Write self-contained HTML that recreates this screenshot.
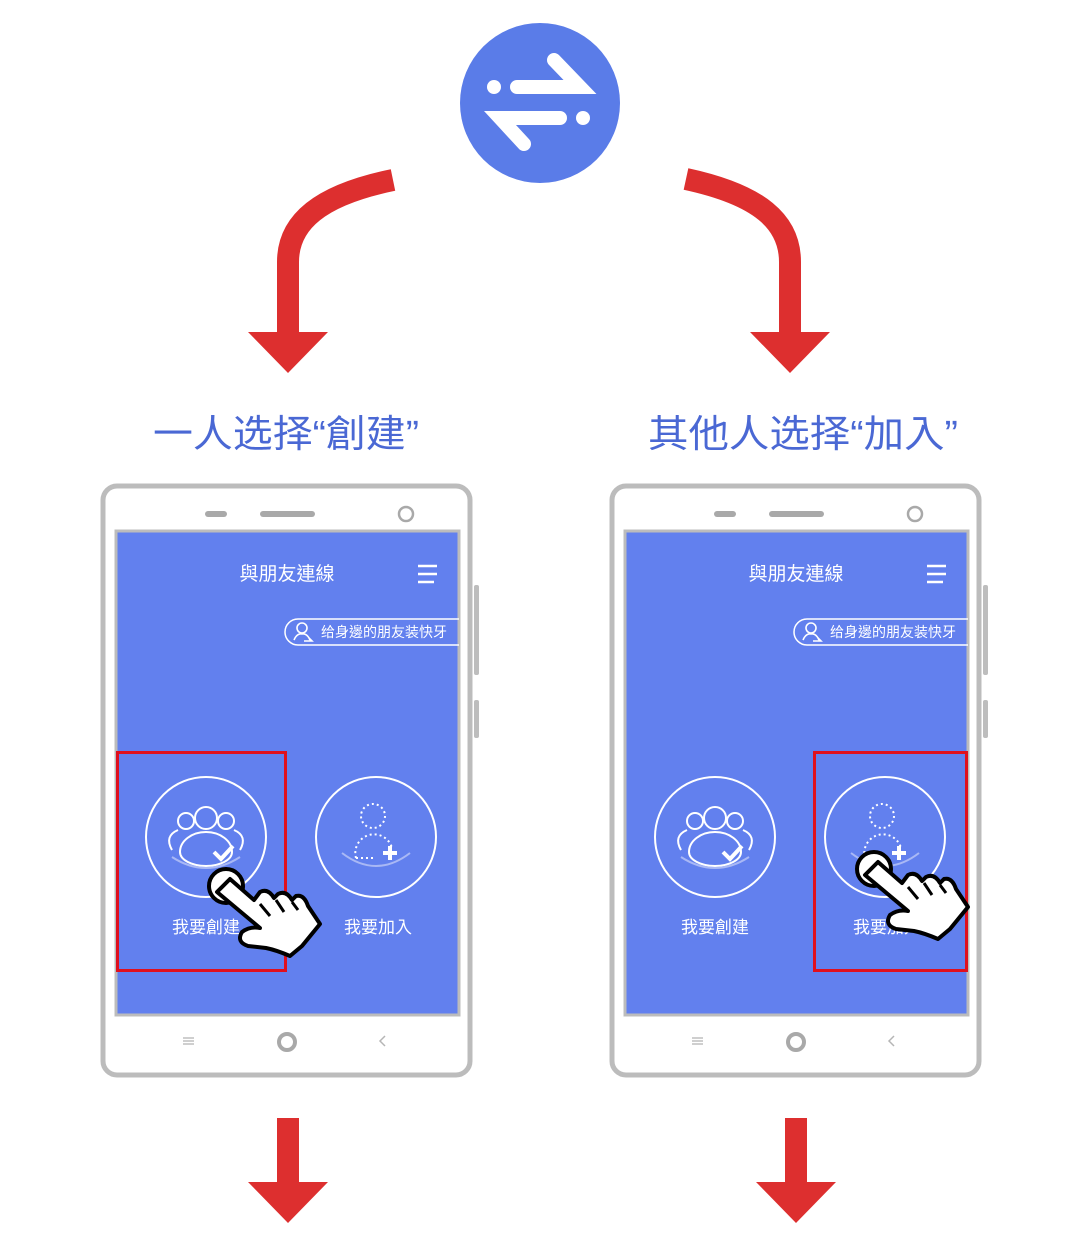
<!DOCTYPE html>
<html><head><meta charset="utf-8"><style>
html,body{margin:0;padding:0;background:#fff;}
svg{display:block;}
text{font-family:"Liberation Sans","Noto Sans CJK TC",sans-serif;}
</style></head><body>
<svg width="1080" height="1242" viewBox="0 0 1080 1242" xmlns="http://www.w3.org/2000/svg">
<defs>
<g id="phone">
  <rect x="474" y="585" width="5" height="90" rx="2" fill="#bdbdbd"/>
  <rect x="474" y="700" width="5" height="38" rx="2" fill="#bdbdbd"/>
  <rect x="103" y="486" width="367" height="589" rx="14" fill="#fff" stroke="#bcbcbc" stroke-width="5"/>
  <rect x="205" y="511" width="22" height="6" rx="3" fill="#a9a9a9"/>
  <rect x="260" y="511" width="55" height="6" rx="3" fill="#a9a9a9"/>
  <circle cx="406" cy="514" r="7" fill="none" stroke="#a9a9a9" stroke-width="2.5"/>
  <rect x="116" y="531" width="343" height="484" fill="#6280ee" stroke="#bcbcbc" stroke-width="3"/>
  <text x="287" y="580" font-size="19" fill="#fff" text-anchor="middle">與朋友連線</text>
  <g stroke="#fff" stroke-width="2.5"><line x1="418" y1="566" x2="437" y2="566"/><line x1="418" y1="574" x2="437" y2="574"/><line x1="418" y1="582" x2="434" y2="582"/></g>
  <path d="M459,619 H298 a13,13 0 0 0 0,26 H459" fill="none" stroke="#fff" stroke-width="1.5"/>
  <circle cx="302" cy="628" r="5" fill="none" stroke="#fff" stroke-width="1.6"/>
  <path d="M294,640 q3,-7 8,-6 q5,-1 8,6 M304,641 h8 l-3,-3" fill="none" stroke="#fff" stroke-width="1.6"/>
  <text x="321" y="637" font-size="14" fill="#fff" textLength="126" lengthAdjust="spacingAndGlyphs">给身邊的朋友装快牙</text>
  <circle cx="206" cy="837" r="60" fill="none" stroke="#fff" stroke-width="2"/>
  <g fill="none" stroke="#fff" stroke-width="2">
    <circle cx="206" cy="818" r="11"/><circle cx="186" cy="821" r="8"/><circle cx="226" cy="821" r="8"/>
    <path d="M180,852 a26,20 0 0 1 52,0 a26,14 0 0 1 -52,0"/>
    <path d="M172,850 q-8,-14 6,-20 M240,850 q8,-14 -6,-20"/>
  </g>
  <path d="M214,852 l7,7 l12,-13" fill="none" stroke="#fff" stroke-width="4"/>
  <path d="M172,857 q34,22 68,0" fill="none" stroke="#a9b8f5" stroke-width="2"/>
  <text x="206" y="933" font-size="17" fill="#fff" text-anchor="middle">我要創建</text>
  <circle cx="376" cy="837" r="60" fill="none" stroke="#fff" stroke-width="2"/>
  <g fill="none" stroke="#fff" stroke-width="2" stroke-dasharray="2 3">
    <circle cx="373" cy="816" r="12"/>
    <path d="M356,858 a18,18 0 0 1 36,-10 M356,858 h18"/>
  </g>
  <path d="M390,846 v14 M383,853 h14" stroke="#fff" stroke-width="4"/>
  <path d="M342,853 q34,26 68,0" fill="none" stroke="#a9b8f5" stroke-width="2"/>
  <text x="378" y="933" font-size="17" fill="#fff" text-anchor="middle">我要加入</text>
  <g stroke="#b5b5b5" stroke-width="1.3"><line x1="183" y1="1038" x2="194" y2="1038"/><line x1="183" y1="1041" x2="194" y2="1041"/><line x1="183" y1="1044" x2="194" y2="1044"/></g>
  <circle cx="287" cy="1042" r="8" fill="none" stroke="#a9a9a9" stroke-width="4"/>
  <path d="M385,1036 l-5,5 l5,5" fill="none" stroke="#b5b5b5" stroke-width="1.5"/>
</g>
<g id="hand">
  <circle cx="0" cy="0" r="17" fill="#fff" stroke="#000" stroke-width="4"/>
  <path d="M-9,6 L4,-7 L28,14 L34,6 Q42,2 48,12 L52,8 Q60,4 66,14 L70,10 Q78,8 82,20 L94,38 L76,60 L64,70 Q50,64 40,62 L22,60 Q10,56 16,46 Q24,40 34,42 Z" fill="#fff" stroke="#000" stroke-width="4" stroke-linejoin="round"/>
  <path d="M34,18 L44,30 M50,14 L58,26 M66,16 L72,24" stroke="#000" stroke-width="3"/>
</g>
</defs>
<circle cx="540" cy="103" r="80" fill="#5a7ce8"/>
<g stroke="#fff" stroke-width="14" stroke-linecap="round" fill="none">
  <path d="M517,87 H580 L554,60"/>
  <path d="M560,118 H500 L524,144"/>
</g>
<circle cx="494" cy="87" r="7" fill="#fff"/><circle cx="583" cy="118" r="7" fill="#fff"/>
<g fill="none" stroke="#dd2f2f" stroke-width="22">
  <path d="M393,180 C320,195 288,222 288,262 L288,336"/>
  <path d="M686,179 C760,195 790,222 790,262 L790,336"/>
  <path d="M288,1118 V1186"/><path d="M796,1118 V1186"/>
</g>
<g fill="#dd2f2f">
  <polygon points="248,332 328,332 288,373"/><polygon points="750,332 830,332 790,373"/>
  <polygon points="248,1182 328,1182 288,1223"/><polygon points="756,1182 836,1182 796,1223"/>
</g>
<text x="153" y="447" font-size="38" fill="#4a68d4" textLength="266" lengthAdjust="spacingAndGlyphs">一人选择“創建”</text>
<text x="648" y="447" font-size="38" fill="#4a68d4" textLength="310" lengthAdjust="spacingAndGlyphs">其他人选择“加入”</text>
<use href="#phone"/>
<use href="#phone" transform="translate(509,0)"/>
<rect x="117.5" y="752.5" width="168" height="218" fill="none" stroke="#e0101e" stroke-width="3"/>
<rect x="814.5" y="752.5" width="152" height="218" fill="none" stroke="#e0101e" stroke-width="3"/>
<use href="#hand" transform="translate(226,886)"/>
<use href="#hand" transform="translate(874,869)"/>
</svg>
</body></html>
